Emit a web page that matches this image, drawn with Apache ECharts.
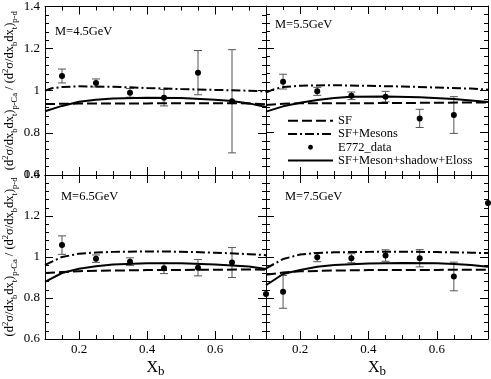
<!DOCTYPE html>
<html>
<head>
<meta charset="utf-8">
<script src="https://cdn.jsdelivr.net/npm/echarts@6/dist/echarts.min.js"></script>
<style>
  html, body { margin: 0; padding: 0; background: #fff; }
  #chart { width: 491px; height: 379px; }
</style>
</head>
<body>
<div id="chart"></div>
<script>
// values
const xb = [0.15, 0.25, 0.35, 0.45, 0.55, 0.65];
const xTickLabels = [0.2, 0.4, 0.6];
const panelLabels = ["M=4.5GeV", "M=5.5GeV", "M=6.5GeV", "M=7.5GeV"];

// M = 4.5 GeV
const sf45 = [[0.1, 0.937], [0.2, 0.939], [0.3, 0.940], [0.4, 0.940], [0.5, 0.941], [0.6, 0.941], [0.7, 0.940], [0.75, 0.936]];
const mes45 = [[0.1, 1.0], [0.12, 1.012], [0.15, 1.018], [0.2, 1.021], [0.3, 1.019], [0.4, 1.013], [0.5, 1.008], [0.6, 1.004], [0.7, 1.0], [0.75, 0.997]];
const full45 = [[0.1, 0.903], [0.15, 0.928], [0.2, 0.948], [0.25, 0.957], [0.3, 0.963], [0.4, 0.967], [0.5, 0.965], [0.6, 0.957], [0.65, 0.951], [0.7, 0.94], [0.75, 0.923]];
const dat45 = [1.07, 1.037, 0.99, 0.967, 1.086, 0.950];
const err45 = [0.033, 0.019, 0.021, 0.039, 0.105, 0.245];

// M = 5.5 GeV
const sf55 = [[0.1, 0.931], [0.15, 0.937], [0.2, 0.940], [0.3, 0.940], [0.4, 0.940], [0.5, 0.941], [0.6, 0.942], [0.7, 0.943], [0.75, 0.943]];
const mes55 = [[0.1, 0.99], [0.12, 1.004], [0.15, 1.016], [0.2, 1.023], [0.3, 1.025], [0.4, 1.022], [0.5, 1.019], [0.6, 1.014], [0.7, 1.009], [0.75, 1.004]];
const full55 = [[0.1, 0.9], [0.15, 0.925], [0.2, 0.942], [0.25, 0.955], [0.3, 0.965], [0.35, 0.970], [0.45, 0.972], [0.55, 0.968], [0.65, 0.960], [0.75, 0.946]];
const dat55 = [1.042, 0.996, 0.975, 0.971, 0.868, 0.884];
const err55 = [0.035, 0.019, 0.018, 0.025, 0.043, 0.087];

// M = 6.5 GeV
const sf65 = [[0.1, 0.922], [0.15, 0.927], [0.2, 0.931], [0.3, 0.934], [0.4, 0.936], [0.5, 0.937], [0.6, 0.938], [0.7, 0.939], [0.75, 0.938]];
const mes65 = [[0.1, 0.962], [0.15, 1.0], [0.2, 1.016], [0.25, 1.022], [0.3, 1.025], [0.4, 1.027], [0.5, 1.026], [0.6, 1.021], [0.7, 1.014], [0.75, 1.009]];
const full65 = [[0.1, 0.879], [0.15, 0.922], [0.2, 0.943], [0.25, 0.955], [0.3, 0.963], [0.4, 0.970], [0.5, 0.969], [0.6, 0.964], [0.7, 0.954], [0.75, 0.942]];
const dat65 = [1.058, 0.992, 0.977, 0.945, 0.948, 0.973];
const err65 = [0.045, 0.018, 0.019, 0.026, 0.04, 0.073];

// M = 7.5 GeV (two extra points at the panel edges)
const xb75 = [0.1, 0.15, 0.25, 0.35, 0.45, 0.55, 0.65, 0.75];
const sf75 = [[0.1, 0.913], [0.15, 0.924], [0.2, 0.93], [0.3, 0.934], [0.4, 0.936], [0.5, 0.937], [0.6, 0.937], [0.7, 0.938], [0.75, 0.938]];
const mes75 = [[0.1, 0.945], [0.15, 0.99], [0.2, 1.012], [0.25, 1.02], [0.3, 1.023], [0.4, 1.025], [0.5, 1.026], [0.6, 1.024], [0.7, 1.021], [0.75, 1.019]];
const full75 = [[0.1, 0.862], [0.15, 0.917], [0.2, 0.937], [0.25, 0.952], [0.3, 0.961], [0.4, 0.968], [0.5, 0.971], [0.6, 0.969], [0.65, 0.966], [0.7, 0.961], [0.75, 0.952]];
const dat75 = [0.82, 0.83, 0.999, 0.994, 1.007, 0.994, 0.905, 1.264];
const err75 = [0, 0.08, 0.022, 0.022, 0.028, 0.042, 0.07, 0];

const panels = [
    { x: xb, sf: sf45, mes: mes45, full: full45, dat: dat45, err: err45 },
    { x: xb, sf: sf55, mes: mes55, full: full55, dat: dat55, err: err55 },
    { x: xb, sf: sf65, mes: mes65, full: full65, dat: dat65, err: err65 },
    { x: xb75, sf: sf75, mes: mes75, full: full75, dat: dat75, err: err75 },
];

const FONT = "Liberation Serif";
const grids = [
    { left: 43, top: 6, width: 223, height: 169 },
    { left: 266, top: 6, width: 222, height: 169 },
    { left: 43, top: 175, width: 223, height: 171 },
    { left: 266, top: 175, width: 222, height: 171 },
];
const labelPos = [[55, 25], [275, 18], [61, 190], [285, 190]];

const yName = "{b|(d}{sup|2}{b|σ/dx}{sub|b}{b|dx}{sub|t}{b|)}{sub|p-Ca}{b| / (d}{sup|2}{b|σ/dx}{sub|b}{b|dx}{sub|t}{b|)}{sub|p-d}";
const yRich = {
    b: { fontSize: 12.5, fontFamily: FONT, lineHeight: 18, verticalAlign: "middle" },
    sub: { fontSize: 8.5, fontFamily: FONT, lineHeight: 9, verticalAlign: "bottom" },
    sup: { fontSize: 8.5, fontFamily: FONT, lineHeight: 9, verticalAlign: "top" },
};

let xAxes = [], yAxes = [], series = [];
const axLine = { show: true, lineStyle: { color: "#000", width: 1 } };

grids.forEach((g, gi) => {
    const bottomRow = gi >= 2, leftCol = gi % 2 === 0;
    ["bottom", "top"].forEach(pos => {
        // minor ticks every 0.05
        xAxes.push({
            gridIndex: gi, type: "value", position: pos, min: 0.1, max: 0.75, interval: 0.05,
            axisLine: Object.assign({ onZero: false }, axLine),
            axisTick: { inside: true, length: 4, lineStyle: { color: "#000" } },
            axisLabel: {
                show: bottomRow && pos === "bottom", customValues: xTickLabels,
                fontFamily: FONT, fontSize: 13, color: "#000", margin: 4
            },
            splitLine: { show: false },
            name: bottomRow && pos === "bottom" ? "{b|X}{s|b}" : "",
            nameLocation: "middle", nameGap: 19,
            nameTextStyle: {
                rich: {
                    b: { fontSize: 16, fontFamily: FONT, color: "#000", lineHeight: 20, verticalAlign: "middle" },
                    s: { fontSize: 13, fontFamily: FONT, color: "#000", lineHeight: 12, verticalAlign: "bottom" }
                }
            }
        });
        // major ticks at the labelled values
        xAxes.push({
            gridIndex: gi, type: "value", position: pos, min: 0.1, max: 0.75,
            axisLine: { show: false, onZero: false },
            axisTick: { inside: true, length: 8, customValues: xTickLabels, lineStyle: { color: "#000" } },
            axisLabel: { show: false }, splitLine: { show: false }
        });
    });
    ["left", "right"].forEach(pos => {
        yAxes.push({
            gridIndex: gi, type: "value", position: pos, min: 0.6, max: 1.4, interval: 0.2,
            axisLine: Object.assign({ onZero: false }, axLine),
            axisTick: { inside: true, length: 8, lineStyle: { color: "#000" } },
            minorTick: { show: true, splitNumber: 5, length: 4, lineStyle: { color: "#000" } },
            axisLabel: {
                show: leftCol && pos === "left", fontFamily: FONT, fontSize: 13, color: "#000", margin: 5,
                showMinLabel: true, showMaxLabel: true
            },
            splitLine: { show: false },
            name: leftCol && pos === "left" ? yName : "",
            nameLocation: "middle", nameGap: 26, nameRotate: 90,
            nameTextStyle: { color: "#000", rich: yRich }
        });
    });

    const p = panels[gi];
    const xi = gi * 4, yi = gi * 2;
    const pts = p.x.map((x, i) => [x, p.dat[i], p.err[i]]);
    series.push({
        name: "SF", type: "line", xAxisIndex: xi, yAxisIndex: yi, data: p.sf,
        symbol: "none", itemStyle: { color: "#000" },
        lineStyle: { color: "#000", width: 2, type: [10, 4] }, z: 3
    });
    series.push({
        name: "SF+Mesons", type: "line", xAxisIndex: xi, yAxisIndex: yi, data: p.mes,
        symbol: "none", itemStyle: { color: "#000" },
        lineStyle: { color: "#000", width: 2, type: [9, 3, 2, 3] }, z: 3
    });
    series.push({
        type: "custom", xAxisIndex: xi, yAxisIndex: yi, data: pts, z: 2,
        renderItem: function (params, api) {
            const x = api.value(0), y = api.value(1), e = api.value(2);
            if (!e) return null;
            const hi = api.coord([x, y + e]), lo = api.coord([x, y - e]);
            const st = { stroke: "#555", lineWidth: 1 };
            return {
                type: "group", children: [
                    { type: "line", shape: { x1: hi[0], y1: hi[1], x2: lo[0], y2: lo[1] }, style: st },
                    { type: "line", shape: { x1: hi[0] - 4, y1: hi[1], x2: hi[0] + 4, y2: hi[1] }, style: st },
                    { type: "line", shape: { x1: lo[0] - 4, y1: lo[1], x2: lo[0] + 4, y2: lo[1] }, style: st }
                ]
            };
        },
        encode: { x: 0, y: 1 }
    });
    series.push({
        name: "E772_data", type: "line", xAxisIndex: xi, yAxisIndex: yi, data: pts.map(d => [d[0], d[1]]),
        symbol: "circle", symbolSize: 6, showSymbol: true,
        itemStyle: { color: "#000" }, lineStyle: { width: 0, color: "#000" }, z: 4
    });
    series.push({
        name: "SF+Meson+shadow+Eloss", type: "line", xAxisIndex: xi, yAxisIndex: yi, data: p.full,
        symbol: "none", itemStyle: { color: "#000" },
        lineStyle: { color: "#000", width: 2 }, z: 3
    });
});

const titles = panelLabels.map((t, i) => ({
    text: t, left: labelPos[i][0], top: labelPos[i][1], padding: 0,
    textStyle: { fontFamily: FONT, fontSize: 12.5, fontWeight: "normal", color: "#000" }
}));

const hideDot = { opacity: 0 };
const option = {
    animation: false,
    backgroundColor: "#fff",
    title: titles,
    legend: {
        orient: "vertical", left: 282, top: 109, itemWidth: 45, itemHeight: 6, itemGap: 0,
        data: [
            { name: "SF", itemStyle: hideDot },
            { name: "SF+Mesons", itemStyle: hideDot },
            { name: "E772_data" },
            { name: "SF+Meson+shadow+Eloss", itemStyle: hideDot }
        ],
        textStyle: { fontFamily: FONT, fontSize: 12.5, color: "#000", lineHeight: 13.3 },
        selectedMode: false
    },
    grid: grids,
    xAxis: xAxes,
    yAxis: yAxes,
    series: series
};

const chart = echarts.init(document.getElementById("chart"));
chart.setOption(option);
</script>
</body>
</html>
